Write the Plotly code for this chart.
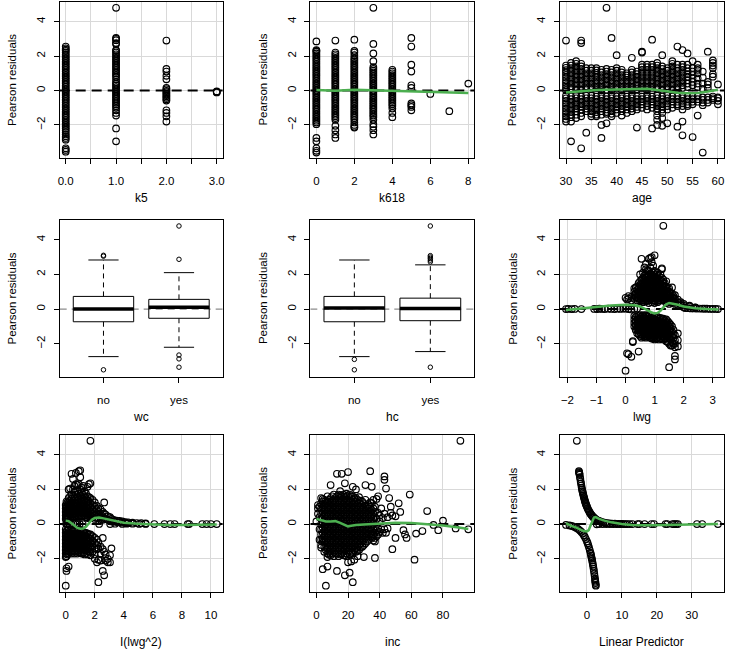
import plotly.graph_objects as go

FONT = "Liberation Sans, Arial, sans-serif"
W, H = 729, 653
COL_PX = [(58, 222), (310, 475), (561, 726)]
ROW_PX = [(2, 158), (220, 377), (435, 592)]
XTITLE_OFF = [40, 40, 50]
GREEN = "#4CAF50"

# ---------------- data ----------------
RESID_LIMITS = [-3.58, 4.8]

K5_COLS = {
    0: [2.55, 2.45, 2.37, 2.3, 2.2, 2.1, 2.0, 1.9, 1.8, 1.7, 1.6, 1.5, 1.4, 1.3, 1.2, 1.1, 1.0, 0.9, 0.8, 0.7,
        0.6, 0.5, 0.4, 0.3, 0.2, 0.1, 0.0, -0.1, -0.2, -0.3, -0.4, -0.5, -0.6, -0.7, -0.8, -0.9, -1.0, -1.1,
        -1.2, -1.3, -1.4, -1.5, -1.6, -1.7, -1.8, -1.9, -2.0, -2.1, -2.2, -2.3, -2.42, -2.55, -2.65, -2.75,
        -2.85, -3.35, -3.45, -3.55],
    1: [4.8, 3.05, 3.0, 2.92, 2.75, 2.7, 2.35, 2.3, 2.2, 2.1, 2.0, 1.9, 1.8, 1.7, 1.6, 1.5, 1.4, 1.3, 1.2, 1.1,
        1.0, 0.9, 0.8, 0.65, 0.5, 0.4, 0.3, 0.2, 0.1, 0.0, -0.1, -0.2, -0.3, -0.4, -0.5, -0.6, -0.7, -0.8,
        -0.9, -1.0, -1.15, -1.3, -1.45, -2.2, -2.95],
    2: [2.9, 1.25, 1.1, 0.85, 0.65, 0.15, 0.07, -0.02, -0.1, -0.18, -0.26, -0.34, -0.42, -0.5, -0.58,
        -1.15, -1.3, -1.5, -1.8],
    3: [-0.05, -0.08, -0.11],
}

K618_COLS = {
    0: [2.85, 2.35, 2.3, 2.25, 2.15, 2.05, 1.95, 1.85, 1.75, 1.65, 1.55, 1.45, 1.35, 1.25, 1.15, 1.05, 0.95,
        0.85, 0.75, 0.65, 0.55, 0.45, 0.35, 0.25, 0.15, 0.05, -0.05, -0.15, -0.25, -0.35, -0.45, -0.55, -0.65,
        -0.75, -0.85, -0.95, -1.05, -1.15, -1.25, -1.35, -1.45, -1.55, -1.65, -1.75, -1.85, -1.95, -2.75,
        -2.95, -3.35, -3.5, -3.6],
    1: [2.9, 2.2, 2.1, 2.0, 1.9, 1.8, 1.7, 1.6, 1.5, 1.4, 1.3, 1.2, 1.1, 1.0, 0.9, 0.8, 0.7, 0.6, 0.5, 0.4,
        0.3, 0.2, 0.1, 0.0, -0.1, -0.2, -0.3, -0.4, -0.5, -0.6, -0.7, -0.8, -0.9, -1.0, -1.1, -1.2, -1.3,
        -1.4, -1.5, -1.6, -1.7, -2.05, -2.3, -2.55, -2.75],
    2: [2.95, 2.3, 2.2, 2.05, 1.9, 1.8, 1.7, 1.6, 1.5, 1.4, 1.3, 1.2, 1.1, 1.0, 0.9, 0.8, 0.7, 0.6, 0.5, 0.4,
        0.3, 0.2, 0.1, 0.0, -0.1, -0.2, -0.3, -0.4, -0.5, -0.6, -0.7, -0.8, -0.9, -1.0, -1.1, -1.2, -1.3,
        -1.4, -1.5, -1.6, -1.7, -1.85, -2.0, -2.1, -2.15],
    3: [4.8, 2.7, 2.15, 1.7, 1.35, 1.25, 1.15, 1.05, 0.95, 0.85, 0.75, 0.65, 0.55, 0.45, 0.35, 0.25, 0.15,
        0.05, -0.05, -0.15, -0.25, -0.35, -0.45, -0.55, -0.65, -0.75, -0.85, -0.95, -1.05, -1.15, -1.25,
        -1.35, -1.45, -1.55, -1.7, -1.95, -2.1, -2.3, -2.55],
    4: [1.2, 1.1, 1.0, 0.9, 0.8, 0.7, 0.6, 0.5, 0.4, 0.3, 0.2, 0.1, 0.0, -0.1, -0.2, -0.3, -0.4, -0.5, -0.6,
        -0.7, -0.8, -0.9, -1.05, -1.3, -1.55],
    5: [3.05, 2.55, 1.5, 1.1, 0.3, 0.15, -0.75, -0.85, -0.95, -1.15],
    6: [-0.2],
    7: [-1.2],
    8: [0.4],
}
K618_SMOOTH_X = [0, 1, 2, 3, 4, 5, 6, 7, 8]
K618_SMOOTH_Y = [0.03, -0.02, 0.05, 0.02, -0.02, -0.06, -0.1, -0.13, -0.15]

AGE_COLS = {
    30: [2.9, 1.45, 1.32, 1.18, 1.05, 0.9, 0.75, 0.6, 0.45, 0.3, 0.15, 0.02, -0.3, -0.45, -0.6, -0.75, -0.9,
         -1.05, -1.2, -1.35, -1.5, -1.65, -1.8],
    31: [1.6, 1.45, 1.3, 1.15, 1.0, 0.85, 0.7, 0.55, 0.4, 0.25, 0.1, -0.35, -0.5, -0.65, -0.8, -0.95, -1.1,
         -1.25, -1.4, -1.55, -1.8, -2.95],
    32: [1.7, 1.55, 1.4, 1.25, 1.1, 0.95, 0.8, 0.65, 0.5, 0.35, 0.2, 0.05, -0.3, -0.45, -0.6, -0.75, -0.9,
         -1.05, -1.2, -1.4, -1.6],
    33: [2.9, 2.75, 1.55, 1.4, 1.25, 1.1, 0.95, 0.8, 0.65, 0.5, 0.35, 0.2, 0.05, -0.35, -0.5, -0.65, -0.8,
         -0.95, -1.1, -1.3, -1.5, -3.35],
    34: [1.3, 1.15, 1.0, 0.85, 0.7, 0.55, 0.4, 0.25, 0.1, -0.3, -0.45, -0.6, -0.75, -0.9, -1.05, -1.2, -2.45],
    35: [1.3, 1.15, 1.0, 0.85, 0.7, 0.55, 0.4, 0.25, 0.1, -0.3, -0.45, -0.6, -0.75, -0.9, -1.05, -1.2, -1.35,
         -1.5],
    36: [1.3, 1.17, 1.03, 0.9, 0.75, 0.6, 0.45, 0.3, 0.15, 0.02, -0.35, -0.5, -0.65, -0.8, -0.95, -1.1, -1.25,
         -1.4, -1.5],
    37: [1.2, 1.05, 0.9, 0.75, 0.6, 0.45, 0.3, 0.15, 0.02, -0.3, -0.45, -0.6, -0.75, -0.9, -1.05, -1.2, -1.4,
         -2.0, -2.75],
    38: [4.8, 1.25, 1.1, 0.95, 0.8, 0.65, 0.5, 0.35, 0.2, 0.05, -0.35, -0.5, -0.65, -0.8, -0.95, -1.1, -1.25,
         -1.35, -1.9],
    39: [3.05, 1.2, 1.05, 0.9, 0.75, 0.6, 0.45, 0.3, 0.15, 0.02, -0.3, -0.45, -0.6, -0.75, -0.9, -1.05, -1.2,
         -1.35, -1.5],
    40: [2.05, 1.3, 1.15, 1.0, 0.85, 0.7, 0.55, 0.4, 0.25, 0.1, -0.35, -0.5, -0.65, -0.8, -0.95, -1.1, -1.3],
    41: [1.2, 1.05, 0.9, 0.75, 0.6, 0.45, 0.3, 0.15, 0.02, -0.3, -0.45, -0.6, -0.75, -0.9, -1.05, -1.2, -1.45],
    42: [1.0, 0.88, 0.75, 0.6, 0.45, 0.3, 0.15, 0.02, -0.35, -0.5, -0.65, -0.8, -0.95, -1.1, -1.3],
    43: [1.9, 1.2, 1.05, 0.9, 0.75, 0.6, 0.45, 0.3, 0.15, 0.02, -0.3, -0.45, -0.6, -0.75, -0.9, -1.05, -1.2],
    44: [1.1, 0.95, 0.8, 0.65, 0.5, 0.35, 0.2, 0.08, -0.35, -0.5, -0.65, -0.8, -0.95, -1.1, -2.15],
    45: [2.25, 2.2, 1.5, 1.35, 1.2, 1.05, 0.9, 0.75, 0.6, 0.45, 0.3, 0.15, 0.02, -0.35, -0.5, -0.65, -0.8,
         -1.0],
    46: [1.5, 1.35, 1.2, 1.05, 0.9, 0.75, 0.6, 0.45, 0.3, 0.15, 0.02, -0.3, -0.45, -0.6, -0.75, -0.9, -1.1],
    47: [2.95, 1.5, 1.35, 1.2, 1.05, 0.9, 0.75, 0.6, 0.45, 0.3, 0.15, 0.02, -0.35, -0.5, -0.65, -0.8, -1.0,
         -2.2],
    48: [1.6, 1.45, 1.3, 1.15, 1.0, 0.85, 0.7, 0.55, 0.4, 0.25, 0.1, -0.3, -0.45, -0.6, -0.75, -0.9, -1.05,
         -1.2, -1.45, -1.7, -2.0],
    49: [2.05, 1.4, 1.25, 1.1, 0.95, 0.8, 0.65, 0.5, 0.35, 0.2, 0.05, -0.35, -0.5, -0.65, -0.8, -0.95, -1.1,
         -1.3, -1.6, -2.05],
    50: [1.3, 1.15, 1.0, 0.85, 0.7, 0.55, 0.4, 0.25, 0.1, -0.3, -0.45, -0.6, -0.75, -0.9, -1.1, -1.9],
    51: [1.7, 1.55, 1.4, 1.25, 1.1, 0.95, 0.8, 0.65, 0.5, 0.35, 0.2, 0.05, -0.35, -0.5, -0.65, -0.8, -1.0],
    52: [2.55, 1.5, 1.3, 1.15, 1.0, 0.85, 0.7, 0.55, 0.4, 0.25, 0.1, -0.35, -0.5, -0.65, -0.8, -0.9, -2.1],
    53: [2.35, 1.5, 1.35, 1.2, 1.05, 0.9, 0.75, 0.6, 0.45, 0.3, 0.15, -0.3, -0.45, -0.6, -0.75, -0.9, -1.1,
         -1.8, -2.6],
    54: [2.15, 1.5, 1.3, 1.1, 0.95, 0.8, 0.6, 0.4, 0.2, -0.35, -0.5, -0.65, -0.8, -0.9],
    55: [1.7, 1.3, 1.1, 0.9, 0.7, 0.5, 0.3, -0.35, -0.5, -0.65, -0.8, -2.7],
    56: [1.5, 1.3, 1.2, 1.0, 0.7, 0.4, 0.2, -0.35, -0.5, -0.65, -1.45],
    57: [1.1, 0.75, 0.4, 0.1, -0.4, -0.55, -0.7, -0.85, -3.6],
    58: [2.25, 0.5, 0.35, 0.15, -0.4, -0.55, -0.7],
    59: [1.75, 1.6, 1.45, 1.3, 0.95, 0.8, -0.35, -0.45, -0.55],
    60: [0.35, -0.4, -0.45, -0.6, -0.8],
}
AGE_SMOOTH_X = [30, 32, 34, 36, 38, 40, 42, 44, 46, 48, 50, 52, 54, 56, 58, 60]
AGE_SMOOTH_Y = [-0.12, -0.06, 0.0, 0.03, 0.05, 0.06, 0.1, 0.12, 0.1, 0.03, -0.06, -0.13, -0.16, -0.14, -0.06, 0.05]

WC_STATS = {  # lower whisker, Q1, median, Q3, upper whisker
    "no": [-2.74, -0.73, 0.0, 0.73, 2.83],
    "yes": [-2.2, -0.53, 0.1, 0.56, 2.1],
}
WC_OUT = {"no": [3.05, 3.1, -3.5], "yes": [4.79, 2.87, -2.65, -2.87, -3.35]}
HC_STATS = {
    "no": [-2.74, -0.73, 0.06, 0.73, 2.83],
    "yes": [-2.45, -0.67, 0.03, 0.63, 2.55],
}
HC_OUT = {"no": [-2.9, -3.5], "yes": [4.79, 2.72, 2.82, 2.92, 3.0, 3.08, -3.35]}

LWG_ZERO_X = [-2.05, -1.97, -1.85, -1.75, -1.52, -1.08, -0.98, -0.9, -0.82, -0.72, -0.6, -0.5, -0.38,
              -0.28, -0.18, -0.08, 0.0, 0.1, 0.2, 0.3, 0.4, 2.05, 2.15, 2.25, 2.35, 2.45, 2.55, 2.65, 2.72,
              2.8, 2.9, 3.0, 3.1, 3.18]
LWG_ZERO_Y = [0.0, 0.01, 0.0, 0.01, 0.0, 0.01, 0.0, 0.02, 0.01, 0.0, 0.02, 0.01, 0.0, 0.02, 0.01, 0.03,
              0.02, 0.0, -0.02, 0.01, 0.03, 0.06, 0.05, 0.04, 0.04, 0.03, 0.03, 0.02, 0.02, 0.02, 0.01,
              0.01, 0.01, 0.0]
LWG_COLS = {
    0.0: [0.65, -3.55],
    0.05: [0.55, -2.55],
    0.1: [0.6, 0.75, -2.6],
    0.2: [0.7, 0.5, -2.75],
    0.25: [-1.85, -1.9],
    0.3: [1.2, 1.0, 0.8, 0.6, -0.4, -0.6, -0.8, -1.0],
    0.35: [1.25, 0.9, 0.7, -0.45, -0.7, -0.95, -1.2],
    0.4: [1.3, 1.1, 0.9, 0.7, 0.5, -0.4, -0.6, -0.8, -1.0, -1.2, -1.4],
    0.45: [1.5, 1.2, 1.0, 0.8, 0.6, -0.4, -0.6, -0.8, -1.0, -1.2, -1.45, -2.45],
    0.5: [2.0, 1.6, 1.4, 1.2, 1.0, 0.8, 0.6, 0.45, -0.35, -0.55, -0.75, -0.95, -1.15, -1.35, -1.55],
    0.55: [2.9, 1.7, 1.5, 1.3, 1.1, 0.9, 0.7, 0.5, -0.45, -0.65, -0.85, -1.05, -1.25, -1.45, -1.65],
    0.6: [2.1, 1.8, 1.5, 1.3, 1.1, 0.9, 0.7, 0.5, 0.4, -0.35, -0.55, -0.75, -0.95, -1.15, -1.35, -1.6],
    0.65: [2.4, 1.95, 1.7, 1.5, 1.3, 1.1, 0.9, 0.7, 0.5, -0.45, -0.65, -0.85, -1.05, -1.25, -1.45, -1.6],
    0.7: [2.6, 2.3, 2.0, 1.8, 1.6, 1.4, 1.2, 1.0, 0.8, 0.6, 0.45, -0.35, -0.55, -0.75, -0.95, -1.15,
          -1.35, -1.55, -1.65],
    0.75: [2.2, 1.9, 1.7, 1.5, 1.3, 1.1, 0.9, 0.7, 0.5, -0.45, -0.65, -0.85, -1.05, -1.25, -1.45, -1.6],
    0.8: [2.9, 2.2, 1.9, 1.7, 1.5, 1.3, 1.1, 0.9, 0.7, 0.5, 0.35, -0.35, -0.55, -0.75, -0.95, -1.15,
          -1.35, -1.55],
    0.85: [2.95, 2.4, 2.0, 1.8, 1.6, 1.4, 1.2, 1.0, 0.8, 0.6, -0.5, -0.7, -0.9, -1.1, -1.3, -1.5, -1.65],
    0.9: [3.0, 2.7, 2.0, 1.8, 1.6, 1.4, 1.2, 1.0, 0.8, 0.6, 0.4, -0.4, -0.6, -0.8, -1.0, -1.2, -1.4,
          -1.6, -1.7],
    0.95: [2.5, 2.1, 1.9, 1.7, 1.5, 1.3, 1.1, 0.9, 0.7, 0.5, -0.5, -0.7, -0.9, -1.1, -1.3, -1.5, -1.7],
    1.0: [3.1, 2.2, 1.9, 1.7, 1.5, 1.3, 1.1, 0.9, 0.7, 0.5, 0.35, -0.4, -0.6, -0.8, -1.0, -1.2, -1.4,
          -1.6, -1.75],
    1.05: [2.0, 1.8, 1.6, 1.4, 1.2, 1.0, 0.8, 0.6, 0.45, -0.5, -0.7, -0.9, -1.1, -1.3, -1.5, -1.7],
    1.1: [2.1, 1.8, 1.6, 1.4, 1.2, 1.0, 0.8, 0.6, 0.4, -0.45, -0.65, -0.85, -1.05, -1.25, -1.45, -1.65],
    1.15: [1.9, 1.7, 1.5, 1.3, 1.1, 0.9, 0.7, 0.5, -0.55, -0.75, -0.95, -1.15, -1.35, -1.55, -1.75],
    1.2: [2.0, 1.7, 1.5, 1.3, 1.1, 0.9, 0.7, 0.5, -0.5, -0.7, -0.9, -1.1, -1.3, -1.5, -1.7],
    1.25: [2.3, 2.35, 1.8, 1.6, 1.4, 1.2, 1.0, 0.8, 0.6, -0.6, -0.8, -1.0, -1.2, -1.4, -1.6],
    1.3: [4.8, 1.7, 1.5, 1.3, 1.1, 0.9, 0.7, 0.5, -0.55, -0.75, -0.95, -1.15, -1.35, -1.55, -1.75],
    1.35: [1.5, 1.3, 1.1, 0.9, 0.7, 0.5, -0.65, -0.85, -1.05, -1.25, -1.45, -1.7],
    1.4: [1.6, 1.3, 1.1, 0.9, 0.7, 0.5, 0.35, -0.6, -0.8, -1.0, -1.2, -1.4, -1.6, -1.85],
    1.45: [1.2, 1.0, 0.8, 0.6, 0.45, -0.7, -0.9, -1.1, -1.3, -1.5, -1.7, -1.9],
    1.5: [1.2, 1.0, 0.8, 0.6, 0.45, 0.3, -0.8, -1.0, -1.2, -1.45, -1.7, -2.0, -3.35],
    1.55: [0.9, 0.7, 0.55, 0.4, -0.9, -1.1, -1.3, -1.55, -1.75, -2.1],
    1.6: [1.25, 0.9, 0.7, 0.5, 0.35, -1.0, -1.3, -1.6, -1.9, -2.1],
    1.65: [0.75, 0.6, 0.45, -1.2, -1.45, -1.65, -2.0],
    1.7: [0.8, 0.6, 0.4, 0.3, -1.5, -1.8, -2.0, -2.2, -2.7, -2.9],
    1.8: [0.55, 0.4, 0.25, -1.4, -1.8, -2.15],
    1.9: [0.4, 0.3, 0.2],
    2.0: [0.3, 0.2, 0.1],
    2.2: [0.15, 0.2],
    2.4: [0.1, 0.08],
}
LWG_SMOOTH_X = [-2.05, -1.5, -1.0, -0.5, 0.0, 0.3, 0.5, 0.6, 0.7, 0.8, 0.9, 1.0, 1.1, 1.2, 1.3, 1.4, 1.5,
                1.6, 1.8, 2.0, 2.4, 2.8, 3.2]
LWG_SMOOTH_Y = [-0.05, 0.05, 0.12, 0.2, 0.25, 0.22, 0.15, 0.08, 0.0, -0.1, -0.2, -0.25, -0.22, -0.1, 0.1,
                0.28, 0.35, 0.33, 0.25, 0.15, 0.05, 0.0, -0.03]

LWG2_ZERO_X = [0.03, 0.08, 0.14, 0.25, 0.36, 0.52, 0.67, 0.81, 0.96, 1.17, 2.3, 3.06, 3.4, 3.9, 4.2, 4.6,
               5.06, 5.5, 6.1, 6.8, 7.2, 7.5, 8.4, 8.5, 9.4, 9.7, 10.0, 10.4]
LWG2_ZERO_Y = [0.02, 0.0, 0.01, 0.02, 0.0, 0.01, 0.02, 0.0, 0.01, 0.0, 0.01, 0.0, 0.02, 0.01, 0.02, 0.02,
               0.01, 0.01, 0.0, 0.0, 0.0, 0.0, 0.0, 0.0, 0.0, 0.0, 0.0, 0.0]
LWG2_COLS = {
    0.0: [1.1, 0.9, 0.7, 0.5, 0.3, -0.3, -0.5, -0.7, -0.9, -1.1, -1.3, -1.5, -1.7, -1.9, -3.55],
    0.05: [1.3, 1.0, 0.8, 0.6, 0.4, 0.25, -0.4, -0.6, -0.8, -1.0, -1.2, -1.4, -1.6, -1.85, -2.55, -2.7],
    0.12: [1.25, 1.05, 0.85, 0.65, 0.45, 0.3, -0.35, -0.55, -0.75, -0.95, -1.15, -1.35, -1.55, -1.75],
    0.2: [2.0, 1.5, 1.2, 1.0, 0.8, 0.6, 0.4, -0.35, -0.55, -0.75, -0.95, -1.15, -1.35, -1.55, -1.7, -2.45],
    0.3: [2.05, 1.6, 1.35, 1.15, 0.95, 0.75, 0.55, 0.4, -0.4, -0.6, -0.8, -1.0, -1.2, -1.4, -1.6],
    0.4: [2.9, 1.7, 1.45, 1.25, 1.05, 0.85, 0.65, 0.45, -0.35, -0.55, -0.75, -0.95, -1.15, -1.35, -1.55, -1.7],
    0.5: [2.6, 2.0, 1.6, 1.35, 1.15, 0.95, 0.75, 0.55, 0.4, -0.4, -0.6, -0.8, -1.0, -1.2, -1.4, -1.6],
    0.6: [2.2, 1.85, 1.55, 1.25, 1.05, 0.85, 0.65, 0.45, -0.35, -0.55, -0.75, -0.95, -1.15, -1.35, -1.55, -1.7],
    0.7: [2.95, 2.3, 1.7, 1.45, 1.2, 1.0, 0.8, 0.6, 0.45, -0.4, -0.6, -0.8, -1.0, -1.2, -1.4, -1.6],
    0.8: [2.25, 1.9, 1.6, 1.35, 1.1, 0.9, 0.7, 0.5, -0.35, -0.55, -0.75, -0.95, -1.15, -1.35, -1.55, -1.7],
    0.9: [3.05, 2.3, 1.75, 1.5, 1.25, 1.0, 0.8, 0.6, 0.45, -0.4, -0.6, -0.8, -1.0, -1.2, -1.4, -1.6],
    1.0: [3.1, 2.7, 2.0, 1.65, 1.4, 1.15, 0.9, 0.7, 0.5, -0.4, -0.6, -0.8, -1.0, -1.2, -1.4, -1.65],
    1.1: [2.1, 1.8, 1.55, 1.3, 1.05, 0.85, 0.65, 0.45, -0.45, -0.65, -0.85, -1.05, -1.25, -1.45, -1.7],
    1.2: [2.2, 1.7, 1.45, 1.2, 1.0, 0.8, 0.6, 0.45, -0.45, -0.65, -0.85, -1.05, -1.25, -1.45, -1.65],
    1.3: [1.9, 1.6, 1.35, 1.1, 0.9, 0.7, 0.5, -0.5, -0.7, -0.9, -1.1, -1.3, -1.5, -1.75],
    1.4: [1.75, 1.5, 1.25, 1.0, 0.8, 0.6, 0.4, -0.5, -0.7, -0.9, -1.1, -1.3, -1.5, -1.7],
    1.5: [2.15, 1.6, 1.35, 1.1, 0.9, 0.7, 0.5, 0.35, -0.55, -0.75, -0.95, -1.15, -1.35, -1.55, -1.75],
    1.6: [2.3, 1.55, 1.3, 1.05, 0.85, 0.65, 0.45, -0.6, -0.8, -1.0, -1.2, -1.4, -1.6],
    1.7: [4.8, 2.35, 1.5, 1.2, 0.95, 0.75, 0.55, 0.35, -0.6, -0.85, -1.1, -1.35, -1.6, -1.8],
    1.85: [1.4, 1.1, 0.85, 0.6, 0.4, -0.7, -1.0, -1.3, -1.6],
    2.0: [1.25, 1.0, 0.75, 0.5, 0.3, -0.8, -1.1, -1.4, -1.75, -2.0],
    2.15: [1.05, 0.8, 0.55, 0.35, -0.9, -1.2, -1.45, -2.2],
    2.25: [0.9, 0.6, 0.35, -1.05, -1.4, -2.05, -3.35],
    2.4: [0.85, 0.6, 0.4, 0.25, -1.3, -1.7, -2.1],
    2.55: [0.7, 0.45, 0.25, -0.8, -1.45, -2.7],
    2.65: [1.25, 0.6, 0.35, -2.95, -1.6],
    2.75: [0.55, 0.3, -1.75, -2.1],
    2.9: [0.45, 0.25, -2.0, -2.2],
    3.05: [0.4, 0.2, -2.2, -1.8],
    3.15: [0.3, 0.15, -1.4],
    3.3: [0.25, 0.15],
    3.5: [0.2, 0.12],
    3.7: [0.18, 0.1],
    3.9: [0.15, 0.08],
    4.1: [0.12, 0.06],
    4.3: [0.1, 0.05],
    4.6: [0.08],
    4.9: [0.06],
    5.2: [0.05],
    5.5: [0.04],
}
LWG2_SMOOTH_X = [0.0, 0.2, 0.4, 0.6, 0.8, 1.0, 1.2, 1.4, 1.6, 1.8, 2.0, 2.3, 2.6, 3.0, 3.5, 4.0, 5.0, 6.0,
                 7.0, 8.0, 9.0, 10.4]
LWG2_SMOOTH_Y = [0.2, 0.17, 0.05, -0.1, -0.22, -0.27, -0.25, -0.15, 0.05, 0.25, 0.35, 0.38, 0.33, 0.25,
                 0.15, 0.08, 0.02, -0.03, -0.06, -0.06, -0.04, -0.02]

INC_COLS = {
    0: [0.15],
    1: [0.9, 1.1, 0.6],
    2: [1.0, 0.4, -0.3, -0.9],
    3: [1.5, 1.2, 0.9, 0.6, 0.3, 0.0, -0.3, -0.6, -0.9, -1.2, -1.35],
    4: [1.45, 1.3, 1.0, 0.7, 0.4, 0.1, -0.2, -0.5, -0.8, -1.0, -2.6],
    5: [1.4, 1.1, 0.8, 0.5, 0.2, -0.1, -0.4, -0.7, -1.0, -1.3, -1.6],
    6: [1.35, 1.2, 0.9, 0.6, 0.3, 0.0, -0.3, -0.6, -0.9, -1.2, -1.5, -3.55],
    7: [1.6, 1.3, 1.0, 0.7, 0.4, 0.1, -0.2, -0.5, -0.8, -1.1, -1.4, -1.7, -1.9, -2.45],
    8: [1.4, 1.1, 0.8, 0.5, 0.2, -0.1, -0.4, -0.7, -1.0, -1.3, -1.6, -1.75],
    9: [2.25, 1.5, 1.2, 0.9, 0.6, 0.3, 0.0, -0.3, -0.6, -0.9, -1.2, -1.5, -1.8],
    10: [1.6, 1.3, 1.0, 0.7, 0.4, 0.1, -0.2, -0.5, -0.8, -1.1, -1.4, -1.7],
    11: [1.7, 1.4, 1.1, 0.8, 0.5, 0.2, -0.1, -0.4, -0.7, -1.0, -1.3, -1.6, -1.85],
    12: [1.5, 1.2, 0.9, 0.6, 0.3, 0.0, -0.3, -0.6, -0.9, -1.2, -1.5, -1.7],
    13: [2.9, 1.6, 1.3, 1.0, 0.7, 0.4, 0.1, -0.2, -0.5, -0.8, -1.1, -1.4, -1.7, -2.7],
    14: [1.7, 1.4, 1.1, 0.8, 0.5, 0.2, -0.1, -0.4, -0.7, -1.0, -1.3, -1.6, -1.85],
    15: [1.9, 1.65, 1.5, 1.2, 0.9, 0.6, 0.3, 0.0, -0.3, -0.6, -0.9, -1.2, -1.5, -1.75],
    16: [2.9, 1.6, 1.3, 1.0, 0.7, 0.4, 0.1, -0.2, -0.5, -0.8, -1.1, -1.4, -1.7],
    17: [1.7, 1.4, 1.1, 0.8, 0.5, 0.2, -0.1, -0.4, -0.7, -1.0, -1.3, -1.6, -1.8],
    18: [2.35, 1.6, 1.5, 1.2, 0.9, 0.6, 0.3, 0.0, -0.3, -0.6, -0.9, -1.2, -1.5, -1.8, -2.95],
    19: [1.75, 1.6, 1.3, 1.0, 0.7, 0.4, 0.1, -0.2, -0.5, -0.8, -1.1, -1.4, -1.7, -1.85],
    20: [3.0, 1.65, 1.4, 1.1, 0.8, 0.5, 0.2, -0.1, -0.4, -0.7, -1.0, -1.3, -1.6, -2.2],
    21: [1.7, 1.5, 1.2, 0.9, 0.6, 0.3, 0.0, -0.3, -0.6, -0.9, -1.2, -1.5, -1.75, -2.8],
    22: [1.6, 1.3, 1.0, 0.7, 0.4, 0.1, -0.2, -0.5, -0.8, -1.1, -1.4, -1.65, -2.15],
    23: [2.15, 1.6, 1.4, 1.1, 0.8, 0.5, 0.2, -0.1, -0.4, -0.7, -1.0, -1.3, -1.6, -1.7, -3.35],
    24: [1.5, 1.2, 0.9, 0.6, 0.3, 0.0, -0.3, -0.6, -0.9, -1.2, -1.5, -2.05],
    25: [2.0, 1.5, 1.3, 1.0, 0.7, 0.4, 0.1, -0.2, -0.5, -0.8, -1.1, -1.4, -1.6],
    26: [1.4, 1.1, 0.8, 0.5, 0.2, -0.1, -0.4, -0.7, -1.0, -1.3, -1.55, -1.85],
    27: [1.55, 1.2, 0.9, 0.6, 0.3, 0.0, -0.3, -0.6, -0.9, -1.2, -1.5],
    28: [1.35, 1.0, 0.7, 0.4, 0.1, -0.2, -0.5, -0.8, -1.1, -1.35],
    29: [1.3, 1.1, 0.8, 0.5, 0.2, -0.1, -0.4, -0.7, -1.0, -1.3],
    30: [1.2, 0.9, 0.6, 0.3, 0.0, -0.3, -0.6, -0.9, -1.2, -1.9],
    31: [2.25, 1.4, 1.0, 0.7, 0.4, 0.1, -0.2, -0.5, -0.8, -1.1],
    32: [1.05, 0.8, 0.5, 0.2, -0.1, -0.4, -0.7, -1.0],
    33: [1.1, 0.9, 0.6, 0.3, 0.0, -0.3, -0.6, -0.9],
    34: [3.05, 1.25, 1.0, 0.7, 0.4, 0.1, -0.2, -0.55],
    35: [2.15, 1.2, 0.8, 0.5, 0.2, -0.1, -0.4, -0.7, -0.8],
    36: [1.4, 0.9, 0.6, 0.3, 0.0, -0.3, -0.6, -0.95],
    37: [1.0, 0.7, 0.4, 0.1, -0.2, -0.5, -0.8, -1.0, -1.95],
    38: [1.45, 0.3, -0.35, -0.7],
    39: [1.6, 0.65, -0.25, -0.6],
    40: [0.5, 0.15, -0.45],
    41: [0.9, -0.3],
    42: [0.35, -0.5],
    43: [2.75, 2.55, 0.6, -0.3],
    44: [2.05, -0.5],
    45: [0.4, -0.25],
    46: [1.5],
    47: [1.0, 0.65],
    48: [0.5, -1.45],
    50: [0.45, -0.8],
    52: [1.2],
    53: [0.7],
    55: [-0.35],
    56: [-0.6],
    57: [-0.8],
    59: [1.7],
    62: [-2.05],
    63: [-0.55],
    67: [-0.4],
    70: [0.75],
    74: [-0.05],
    77: [-0.35],
    80: [0.2],
    88: [-0.25],
    91: [4.8],
    96: [-0.3],
}
INC_SMOOTH_X = [0, 3, 6, 9, 12, 15, 18, 20, 22, 25, 30, 35, 40, 50, 60, 70, 80, 90, 96]
INC_SMOOTH_Y = [0.3, 0.22, 0.15, 0.15, 0.17, 0.07, -0.05, -0.13, -0.1, -0.05, -0.03, 0.0, 0.03, 0.08, 0.06,
                0.0, -0.08, -0.2, -0.28]

LP_UPPER_X = [-2.9, -2.3, -2.25, -2.2, -2.15, -2.1, -2.0, -1.9, -1.8, -1.7, -1.6, -1.5, -1.4, -1.3, -1.2,
              -1.1, -1.0, -0.9, -0.8, -0.7, -0.6, -0.5, -0.4, -0.3, -0.2, -0.1, 0.0, 0.2, 0.4, 0.6, 0.8,
              1.0, 1.2, 1.4, 1.6, 1.8, 2.0, 2.3, 2.6, 3.0, 3.4, 3.8, 4.2, 4.7, 5.2, 5.8, 6.5, 7.2, 8.0,
              9.0, 10.0, 11.0]
LP_UPPER_Y = [4.8, 3.05, 3.0, 2.95, 2.9, 2.85, 2.7, 2.6, 2.45, 2.35, 2.22, 2.1, 2.0, 1.9, 1.82, 1.73, 1.65,
              1.57, 1.5, 1.42, 1.35, 1.28, 1.22, 1.16, 1.1, 1.05, 1.0, 0.9, 0.82, 0.74, 0.67, 0.6, 0.55,
              0.5, 0.45, 0.4, 0.37, 0.32, 0.27, 0.22, 0.18, 0.15, 0.12, 0.1, 0.07, 0.055, 0.04, 0.03,
              0.02, 0.01, 0.007, 0.004]
LP_LOWER_X = [-6.0, -5.0, -4.5, -4.0, -3.5, -3.0, -2.5, -2.0, -1.6, -1.2, -0.9, -0.6, -0.3, 0.0, 0.2, 0.4,
              0.6, 0.8, 1.0, 1.1, 1.2, 1.3, 1.4, 1.5, 1.6, 1.7, 1.8, 1.9, 2.0, 2.1, 2.2, 2.3, 2.35, 2.4,
              2.45, 2.5, 2.55]
LP_LOWER_Y = [-0.05, -0.08, -0.1, -0.13, -0.17, -0.22, -0.29, -0.37, -0.45, -0.55, -0.64, -0.74, -0.86,
              -1.0, -1.1, -1.22, -1.35, -1.5, -1.65, -1.73, -1.82, -1.92, -2.0, -2.1, -2.22, -2.33, -2.45,
              -2.58, -2.7, -2.85, -3.0, -3.15, -3.25, -3.32, -3.4, -3.5, -3.55]
LP_ZERO_X = [2.8, 3.5, 4.5, 5.5, 6.5, 7.5, 8.5, 9.5, 10.5, 11.5, 12.2, 13.0, 14.5, 15.0, 16.5, 18.5, 19.2,
             22.5, 23.0, 24.5, 25.0, 25.5, 26.0, 31.5, 33.0, 37.5]
LP_ZERO_Y = [-0.01, 0.0, 0.0, 0.0, 0.0, 0.0, 0.0, 0.0, 0.0, 0.0, 0.0, 0.0, 0.0, 0.0, 0.0, 0.0, 0.0, 0.0,
             0.0, 0.0, 0.0, 0.0, 0.0, 0.0, 0.0, 0.0]
LP_SMOOTH_X = [-6, -4.5, -3, -2, -1, 0, 0.5, 1, 1.5, 2, 2.5, 3.5, 5, 7, 10, 13, 18, 25, 30, 37.5]
LP_SMOOTH_Y = [0.05, -0.1, -0.2, -0.3, -0.4, -0.42, -0.35, -0.1, 0.2, 0.38, 0.4, 0.3, 0.2, 0.1, 0.0, -0.05,
               -0.07, -0.05, -0.02, 0.0]

# ---------------- helpers ----------------
def ext(lo, hi, f=0.04):
    d = hi - lo
    return [lo - f * d, hi + f * d]


def flatten(cols):
    xs, ys = [], []
    for k, vals in cols.items():
        xs += [k] * len(vals)
        ys += list(vals)
    return xs, ys


fig = go.Figure()
YR = ext(*RESID_LIMITS)


def axn(n):
    return ("x" if n == 1 else "x%d" % n), ("y" if n == 1 else "y%d" % n)


def add_points(n, xs, ys, size=6.6, lw=1.15):
    xa, ya = axn(n)
    fig.add_trace(go.Scatter(x=xs, y=ys, mode="markers", xaxis=xa, yaxis=ya, showlegend=False,
                             hoverinfo="skip",
                             marker=dict(symbol="circle-open", size=size, color="black",
                                         line=dict(width=lw, color="black"))))


def add_line(n, xs, ys, color, width, dash=None):
    xa, ya = axn(n)
    fig.add_trace(go.Scatter(x=xs, y=ys, mode="lines", xaxis=xa, yaxis=ya, showlegend=False,
                             hoverinfo="skip", line=dict(color=color, width=width, dash=dash)))


def zero_dash(n, xr):
    add_line(n, xr, [0, 0], "black", 2, "10px,6px")


def boxplot(n, stats, outs, xr):
    add_line(n, xr, [0, 0], "#8c8c8c", 1.3, "7px,5px")
    for i, key in enumerate(stats):
        p = i + 1
        lo, q1, med, q3, hi = stats[key]
        add_line(n, [p, p], [q3, hi], "black", 1, "5px,4px")
        add_line(n, [p, p], [q1, lo], "black", 1, "5px,4px")
        add_line(n, [p - 0.2, p + 0.2], [hi, hi], "black", 1)
        add_line(n, [p - 0.2, p + 0.2], [lo, lo], "black", 1)
        add_line(n, [p - 0.4, p + 0.4, p + 0.4, p - 0.4, p - 0.4], [q1, q1, q3, q3, q1], "black", 1)
        add_line(n, [p - 0.4, p + 0.4], [med, med], "black", 3.5)
        add_points(n, [p] * len(outs[key]), outs[key], size=4.5, lw=1)


# ---------------- panels ----------------
panels = []

# 1 k5
xs, ys = flatten(K5_COLS)
xr = ext(min(xs), max(xs))
add_points(1, xs, ys)
zero_dash(1, xr)
panels.append(dict(xr=xr, title="k5", tickvals=[0, 0.5, 1, 1.5, 2, 2.5, 3],
                   ticktext=["0.0", "", "1.0", "", "2.0", "", "3.0"], grid=True))

# 2 k618
xs, ys = flatten(K618_COLS)
xr = ext(min(xs), max(xs))
add_points(2, xs, ys)
zero_dash(2, xr)
add_line(2, K618_SMOOTH_X, K618_SMOOTH_Y, GREEN, 2.5)
panels.append(dict(xr=xr, title="k618", tickvals=[0, 2, 4, 6, 8], grid=True))

# 3 age
xs, ys = flatten(AGE_COLS)
xr = ext(min(xs), max(xs))
add_points(3, xs, ys)
zero_dash(3, xr)
add_line(3, AGE_SMOOTH_X, AGE_SMOOTH_Y, GREEN, 2.5)
panels.append(dict(xr=xr, title="age", tickvals=[30, 35, 40, 45, 50, 55, 60], grid=True))

# 4 wc
xr = ext(0.5, len(WC_STATS) + 0.5)
boxplot(4, WC_STATS, WC_OUT, xr)
panels.append(dict(xr=xr, title="wc", tickvals=[1, 2], ticktext=list(WC_STATS.keys()), grid=False))

# 5 hc
xr = ext(0.5, len(HC_STATS) + 0.5)
boxplot(5, HC_STATS, HC_OUT, xr)
panels.append(dict(xr=xr, title="hc", tickvals=[1, 2], ticktext=list(HC_STATS.keys()), grid=False))

# 6 lwg
xs, ys = flatten(LWG_COLS)
xs += LWG_ZERO_X
ys += LWG_ZERO_Y
xr = ext(min(xs), max(xs))
add_points(6, xs, ys)
zero_dash(6, xr)
add_line(6, LWG_SMOOTH_X, LWG_SMOOTH_Y, GREEN, 2.5)
panels.append(dict(xr=xr, title="lwg", tickvals=[-2, -1, 0, 1, 2, 3], grid=True))

# 7 lwg^2
xs, ys = flatten(LWG2_COLS)
xs += LWG2_ZERO_X
ys += LWG2_ZERO_Y
xr = ext(min(xs), max(xs))
add_points(7, xs, ys)
zero_dash(7, xr)
add_line(7, LWG2_SMOOTH_X, LWG2_SMOOTH_Y, GREEN, 2.5)
panels.append(dict(xr=xr, title="I(lwg^2)", tickvals=[0, 2, 4, 6, 8, 10], grid=True))

# 8 inc
xs, ys = flatten(INC_COLS)
xr = ext(min(xs), max(xs))
add_points(8, xs, ys)
zero_dash(8, xr)
add_line(8, INC_SMOOTH_X, INC_SMOOTH_Y, GREEN, 2.5)
panels.append(dict(xr=xr, title="inc", tickvals=[0, 20, 40, 60, 80], grid=True))

# 9 linear predictor
xs = LP_UPPER_X + LP_LOWER_X + LP_ZERO_X
ys = LP_UPPER_Y + LP_LOWER_Y + LP_ZERO_Y
xr = ext(min(xs), max(xs))
add_points(9, xs, ys)
zero_dash(9, xr)
add_line(9, LP_SMOOTH_X, LP_SMOOTH_Y, GREEN, 2.5)
panels.append(dict(xr=xr, title="Linear Predictor", tickvals=[0, 10, 20, 30], grid=True))

# ---------------- layout ----------------
layout = dict(width=W, height=H, margin=dict(l=0, r=0, t=0, b=0), paper_bgcolor="white",
              plot_bgcolor="white", showlegend=False, font=dict(family=FONT, size=11, color="black"))
annotations = []
for i, p in enumerate(panels):
    n = i + 1
    r, c = divmod(i, 3)
    x0, x1 = COL_PX[c]
    y0, y1 = ROW_PX[r]
    key = "" if n == 1 else str(n)
    common = dict(showline=True, mirror=True, linecolor="black", linewidth=1, ticks="outside", ticklen=5,
                  tickwidth=1, tickcolor="black", zeroline=False, showgrid=p["grid"], gridcolor="#d9d9d9",
                  gridwidth=1, tickfont=dict(family=FONT, size=11.5, color="black"), fixedrange=True)
    xa = dict(common, domain=[x0 / W, x1 / W], range=p["xr"], tickmode="array", tickvals=p["tickvals"],
              anchor="y" + key, ticklabelstandoff=7)
    if "ticktext" in p:
        xa["ticktext"] = p["ticktext"]
    ya = dict(common, domain=[1 - y1 / H, 1 - y0 / H], range=YR, tickmode="array", tickvals=[-2, 0, 2, 4],
              tickangle=-90, anchor="x" + key, ticklabelstandoff=4)
    layout["xaxis" + key] = xa
    layout["yaxis" + key] = ya
    annotations.append(dict(text=p["title"], xref="paper", yref="paper", x=(x0 + x1) / 2 / W,
                            y=1 - (y1 + XTITLE_OFF[r]) / H, xanchor="center", yanchor="middle",
                            showarrow=False, font=dict(family=FONT, size=12, color="black")))
    annotations.append(dict(text="Pearson residuals", xref="paper", yref="paper", x=(x0 - 48) / W,
                            y=1 - (y0 + y1) / 2 / H, xanchor="center", yanchor="middle", textangle=-90,
                            showarrow=False, font=dict(family=FONT, size=11.5, color="black")))
layout["annotations"] = annotations
fig.update_layout(**layout)
fig.write_html("out.html", config={"displayModeBar": False},
               post_script="document.body.style.margin='0';document.body.style.overflow='hidden';")
